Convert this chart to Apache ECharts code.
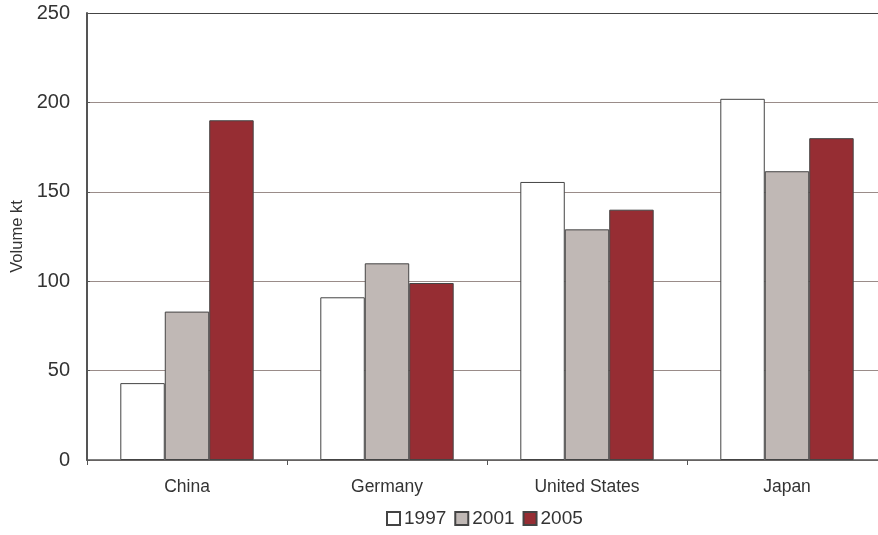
<!DOCTYPE html>
<html>
<head>
<meta charset="utf-8">
<script src="https://cdn.jsdelivr.net/npm/echarts@6/dist/echarts.min.js"></script>
<style>html,body{margin:0;padding:0;background:#fff}#c{width:878px;height:535px}</style>
</head>
<body>
<div id="c"></div>
<script>
var categories = ['China', 'Germany', 'United States', 'Japan'];
var seriesNames = ['1997', '2001', '2005'];
var v1997 = [43, 91, 155.5, 202];
var v2001 = [83, 110, 129, 161.5];
var v2005 = [190, 99, 140, 180];
var yTicks = [0, 50, 100, 150, 200, 250];

var colors = ['#ffffff', '#c0b8b5', '#962d33'];
var font = 'Liberation Sans, Arial, sans-serif';
var chart = echarts.init(document.getElementById('c'));
var grid = '#9a8c89';
function mk(name, data, color) {
  return {
    name: name, type: 'bar', data: data, barGap: '0%', barCategoryGap: '33.3%',
    itemStyle: { color: color, borderColor: '#444', borderWidth: 1 },
    animation: false
  };
}
chart.setOption({
  animation: false,
  textStyle: { fontFamily: font },
  grid: { left: 87, width: 800, top: 13, height: 447, outerBoundsMode: 'none', containLabel: false },
  legend: {
    bottom: 2, left: 381, itemWidth: 13, itemHeight: 13, itemGap: 8,
    icon: 'rect',
    data: seriesNames,
    textStyle: { fontSize: 19, color: '#333', fontFamily: font, padding: [0, 0, 0, -1] }
  },
  xAxis: {
    type: 'category', data: categories,
    axisLine: { lineStyle: { color: '#555', width: 1.5 } },
    axisTick: { show: true, length: 5, lineStyle: { color: '#555' } },
    axisLabel: { fontSize: 17.5, color: '#333', margin: 18, fontFamily: font }
  },
  yAxis: {
    type: 'value', min: 0, max: 250, interval: 50,
    name: 'Volume kt', nameLocation: 'middle', nameGap: 60,
    nameTextStyle: { fontSize: 16.5, color: '#333', fontFamily: font },
    axisLine: { show: true, lineStyle: { color: '#555', width: 2 } },
    axisTick: { show: true, inside: true, length: 3, lineStyle: { color: '#555' } },
    axisLabel: { fontSize: 20, color: '#333', margin: 17, fontFamily: font,
      formatter: function (v) { return yTicks.indexOf(v) >= 0 ? String(v) : ''; } },
    splitLine: { show: true, lineStyle: { color: [grid, grid, grid, grid, grid, '#444'], width: 1 } }
  },
  series: [mk(seriesNames[0], v1997, colors[0]), mk(seriesNames[1], v2001, colors[1]), mk(seriesNames[2], v2005, colors[2])]
});
</script>
</body>
</html>
